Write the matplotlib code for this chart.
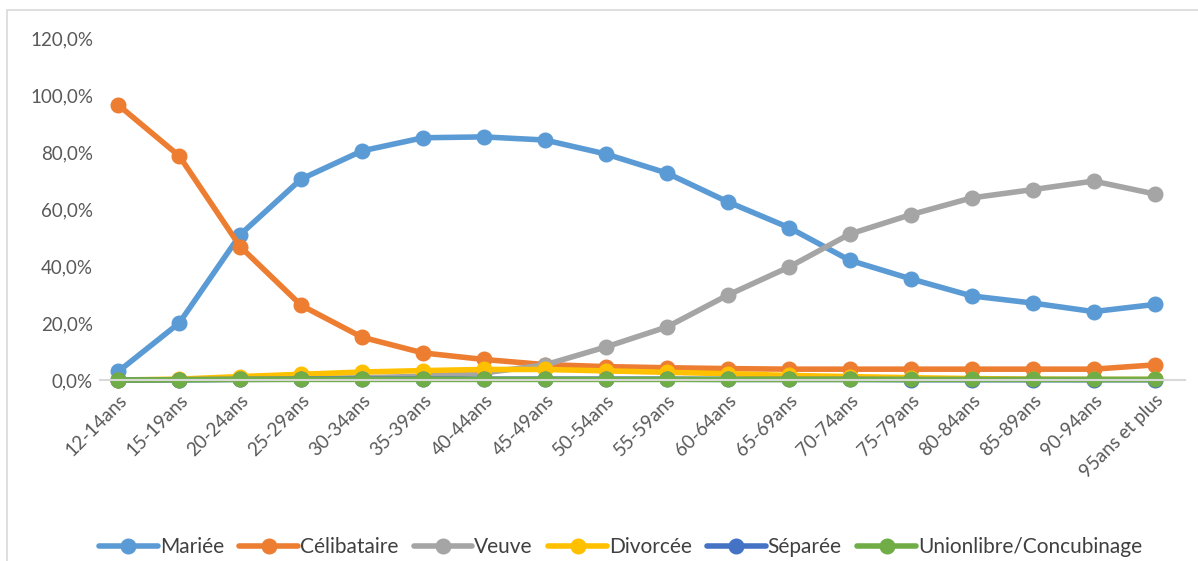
import matplotlib
matplotlib.use("Agg")
import matplotlib.pyplot as plt
from matplotlib.patches import Rectangle
from matplotlib.ticker import FuncFormatter

plt.rcParams["font.family"] = ["Lato", "DejaVu Sans"]

AGES = ["12-14ans", "15-19ans", "20-24ans", "25-29ans", "30-34ans", "35-39ans",
        "40-44ans", "45-49ans", "50-54ans", "55-59ans", "60-64ans", "65-69ans",
        "70-74ans", "75-79ans", "80-84ans", "85-89ans", "90-94ans", "95ans et plus"]

mariee = [3.0, 20.0, 51.0, 70.5, 80.4, 85.0, 85.3, 84.2, 79.3, 72.6, 62.5, 53.5,
          42.0, 35.5, 29.5, 27.0, 24.0, 26.5]
celibataire = [96.5, 78.6, 46.8, 26.2, 15.0, 9.5, 7.2, 5.4, 4.7, 4.3, 4.0, 3.8,
               3.8, 3.8, 3.8, 3.8, 3.8, 5.3]
veuve = [0.0, 0.1, 0.3, 0.5, 0.8, 1.3, 2.5, 5.3, 11.6, 18.6, 29.8, 39.6,
         51.2, 58.0, 63.9, 66.8, 69.8, 65.3]
divorcee = [0.0, 0.3, 1.2, 2.0, 2.8, 3.3, 3.7, 3.7, 3.2, 2.7, 2.2, 1.6,
            1.2, 0.8, 0.5, 0.3, 0.2, 0.2]
separee = [0.0, 0.1, 0.2, 0.3, 0.3, 0.3, 0.3, 0.3, 0.3, 0.3, 0.2, 0.2,
           0.2, 0.1, 0.1, 0.1, 0.1, 0.1]
union_libre = [0.0, 0.1, 0.2, 0.2, 0.2, 0.2, 0.2, 0.2, 0.2, 0.2, 0.2, 0.2,
               0.2, 0.2, 0.2, 0.2, 0.2, 0.2]

SERIES = [
    ("Mariée", mariee, "#5B9BD5"),
    ("Célibataire", celibataire, "#ED7D31"),
    ("Veuve", veuve, "#A5A5A5"),
    ("Divorcée", divorcee, "#FFC000"),
    ("Séparée", separee, "#4472C4"),
    ("Unionlibre/Concubinage", union_libre, "#70AD47"),
]

fig = plt.figure(figsize=(11.98, 5.61), dpi=100)
fig.patches.append(Rectangle((7 / 1198, -0.1), 1.2, 1 - 10 / 561 + 0.1,
                             transform=fig.transFigure, fill=False,
                             edgecolor="#D9D9D9", linewidth=1.2))

ax = fig.add_axes([100 / 1198, 1 - 380 / 561, 1085 / 1198, (380 - 38) / 561])
x = list(range(len(AGES)))
for name, vals, color in SERIES:
    ax.plot(x, vals, color=color, linewidth=4.0, marker="o", markersize=10.5,
            label=name, solid_capstyle="round")

ax.set_xlim(-0.3, len(AGES) - 0.5)
ax.set_ylim(0, 120)
ax.set_yticks([0, 20, 40, 60, 80, 100, 120])
ax.yaxis.set_major_formatter(FuncFormatter(lambda v, p: f"{v:.1f}%".replace(".", ",")))
ax.set_xticks(x)
ax.set_xticklabels(AGES, rotation=45, ha="right", rotation_mode="anchor")
ax.tick_params(axis="both", length=0, labelsize=13.5, colors="#595959")
ax.tick_params(axis="x", pad=8)
ax.tick_params(axis="y", pad=5)
for side in ["top", "right", "left"]:
    ax.spines[side].set_visible(False)
ax.spines["bottom"].set_color("#D9D9D9")
ax.spines["bottom"].set_linewidth(1.5)
ax.set_zorder(1)
for ln in ax.lines:
    ln.set_clip_on(False)

fig.legend(loc="center", bbox_to_anchor=(0.518, 1 - 547 / 561), ncol=6, frameon=False,
           fontsize=15, handlelength=2.8, handletextpad=0.1, columnspacing=0.75,
           labelcolor="#404040")

fig.savefig("out.png", dpi=100)
